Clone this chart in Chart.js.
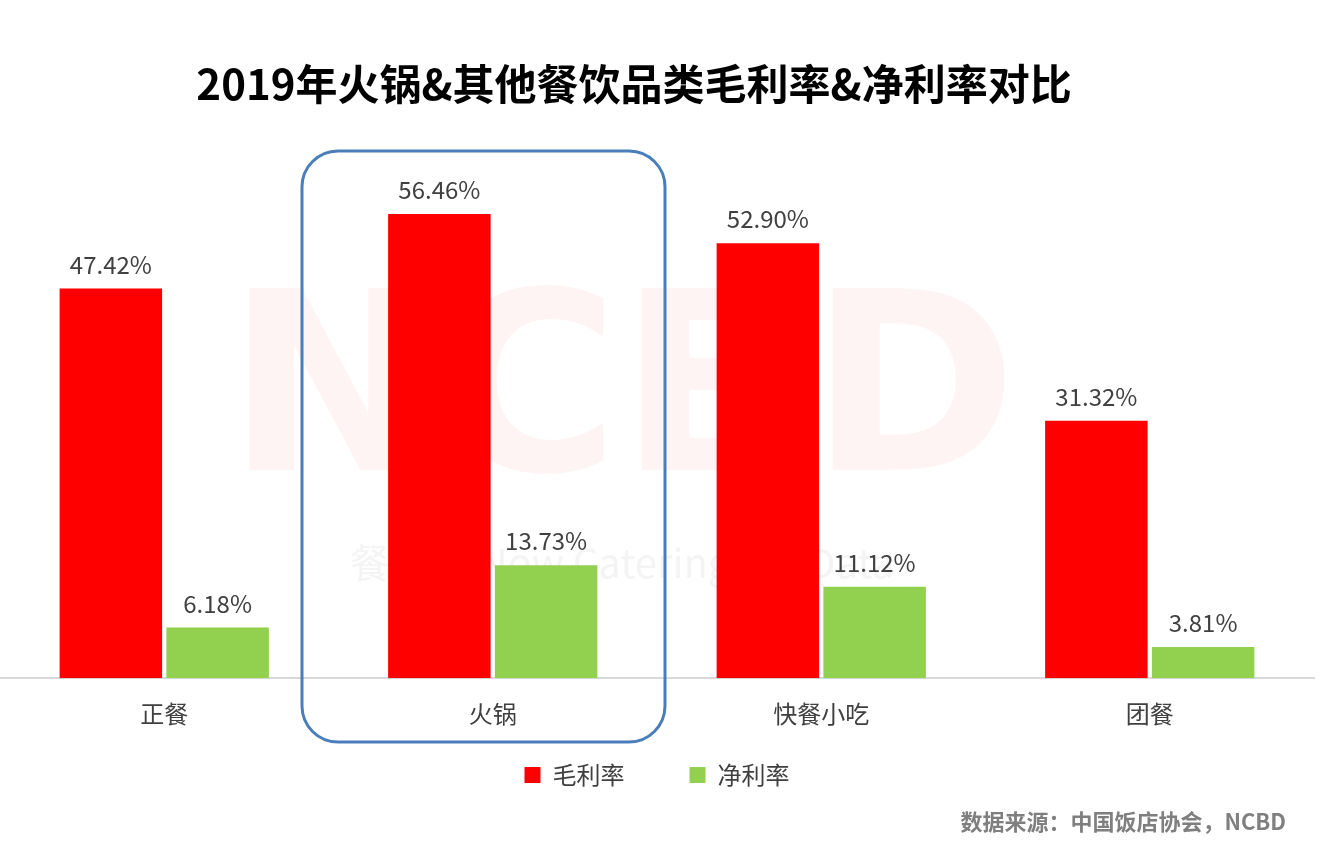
<!DOCTYPE html>
<html>
<head>
<meta charset="utf-8">
<script src="https://cdn.jsdelivr.net/npm/chart.js@4"></script>
<style>
  html, body { margin: 0; padding: 0; background: #fff; }
  #wrap { width: 1330px; height: 848px; }
</style>
</head>
<body>
<div id="wrap"><canvas id="grafico"></canvas></div>
<script>
const categorias = ['正餐', '火锅', '快餐小吃', '团餐'];
const maoLiLv = [47.42, 56.46, 52.90, 31.32];
const jingLiLv = [6.18, 13.73, 11.12, 3.81];
const titulo = '2019年火锅&其他餐饮品类毛利率&净利率对比';
const fuente = '数据来源：中国饭店协会，NCBD';
const FONT = '"Noto Sans CJK SC", "Noto Sans", sans-serif';

const extras = {
    id: 'extras',
    beforeDatasetsDraw(chart) {
        const ctx = chart.ctx;
        ctx.save();
        ctx.fillStyle = 'rgba(230, 60, 60, 0.06)';
        ctx.font = 'bold 250px "DejaVu Sans", sans-serif';
        ctx.textAlign = 'center';
        ctx.textBaseline = 'alphabetic';
        ctx.fillText('NCBD', 622, 470);
        ctx.fillStyle = 'rgba(150, 150, 150, 0.1)';
        ctx.font = '40px ' + FONT;
        ctx.fillText('餐宝典 Now Catering Big Data', 622, 578);
        ctx.restore();
    },
    afterDatasetsDraw(chart) {
        const ctx = chart.ctx;
        ctx.save();
        ctx.font = '24px ' + FONT;
        ctx.fillStyle = '#404040';
        ctx.textAlign = 'center';
        ctx.textBaseline = 'bottom';
        chart.data.datasets.forEach((ds, i) => {
            chart.getDatasetMeta(i).data.forEach((bar, j) => {
                ctx.fillText(ds.data[j].toFixed(2) + '%', bar.x, bar.y - 12);
            });
        });
        // titulo
        ctx.font = 'bold 42px ' + FONT;
        ctx.fillStyle = '#000';
        ctx.textBaseline = 'middle';
        ctx.fillText(titulo, 634, 84);
        // fuente
        ctx.font = 'bold 22px ' + FONT;
        ctx.fillStyle = '#7f7f7f';
        ctx.textAlign = 'right';
        ctx.fillText(fuente, 1286, 822);
        // recuadro del hot pot
        ctx.strokeStyle = '#4a7ebb';
        ctx.lineWidth = 3;
        ctx.beginPath();
        ctx.roundRect(302, 151, 363, 591, 36);
        ctx.stroke();
        ctx.restore();
    }
};

new Chart(document.getElementById('grafico').getContext('2d'), {
    type: 'bar',
    data: {
        labels: categorias,
        datasets: [
            { label: '毛利率', data: maoLiLv, backgroundColor: '#ff0000' },
            { label: '净利率', data: jingLiLv, backgroundColor: '#92d050' }
        ]
    },
    options: {
        responsive: true,
        maintainAspectRatio: false,
        animation: false,
        categoryPercentage: 0.65,
        barPercentage: 0.96,
        layout: { padding: { top: 185, left: 0, right: 16, bottom: 51 } },
        plugins: {
            legend: {
                position: 'bottom',
                labels: {
                    font: { size: 24, family: FONT },
                    color: '#404040',
                    boxWidth: 16, boxHeight: 16,
                    padding: 22,
                    generateLabels(chart) {
                        const items = Chart.defaults.plugins.legend.labels.generateLabels(chart);
                        items[0].text = items[0].text + '        ';
                        return items;
                    }
                }
            },
            tooltip: { enabled: false }
        },
        scales: {
            x: {
                grid: { display: false },
                border: { color: '#d9d9d9', width: 2 },
                ticks: { font: { size: 24, family: FONT }, color: '#404040', padding: 13 }
            },
            y: { display: false, min: 0, max: 60 }
        }
    },
    plugins: [extras]
});
</script>
</body>
</html>
